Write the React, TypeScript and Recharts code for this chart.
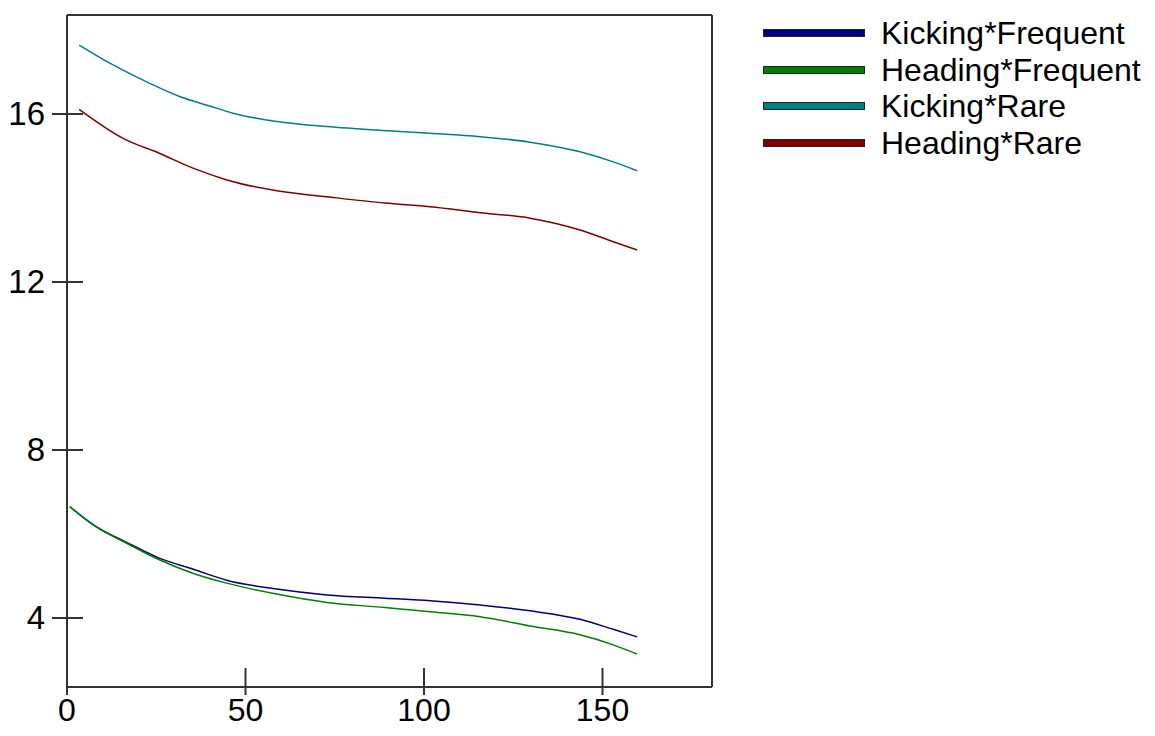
import { LineChart, Line, XAxis, YAxis, ReferenceLine } from 'recharts'

const X_MAX = 180.67
const Y_MIN = 2.357
const Y_MAX = 18.357

const xTicks = [0, 50, 100, 150]
const yTicks = [4, 8, 12, 16]

const kickFreqX = [0.8, 7.4, 16.7, 26, 35.4, 44.7, 58.7, 72.8, 89, 101.7, 115.7, 129.7, 143.7, 153, 159.7]
const kickFreqY = [6.65, 6.22, 5.8, 5.42, 5.16, 4.9, 4.69, 4.55, 4.47, 4.41, 4.31, 4.17, 3.97, 3.73, 3.55]

const headFreqX = [0.8, 7.4, 16.7, 26, 35.4, 44.7, 58.7, 72.8, 89, 101.7, 115.7, 129.7, 143.7, 153, 159.7]
const headFreqY = [6.65, 6.21, 5.78, 5.38, 5.06, 4.83, 4.57, 4.37, 4.25, 4.15, 4.03, 3.81, 3.6, 3.36, 3.14]

const kickRareX = [3.4, 12, 23.2, 31.7, 40, 46.5, 58.8, 72.8, 90, 101.7, 115.7, 129.7, 143.7, 153, 159.7]
const kickRareY = [17.64, 17.21, 16.73, 16.41, 16.19, 16.02, 15.82, 15.7, 15.6, 15.54, 15.46, 15.33, 15.1, 14.86, 14.65]

const headRareX = [3.4, 15.7, 26, 35.3, 44.8, 58.8, 72.8, 89, 101.7, 115.7, 129.7, 143.7, 153, 159.7]
const headRareY = [16.11, 15.42, 15.06, 14.71, 14.43, 14.17, 14.03, 13.88, 13.79, 13.65, 13.52, 13.24, 12.96, 12.76]

const toPoints = (xs: number[], ys: number[]) => xs.map((x, i) => ({ x, y: ys[i] }))

const SERIES = [
  { name: 'Kicking*Frequent', color: '#000080', data: toPoints(kickFreqX, kickFreqY) },
  { name: 'Heading*Frequent', color: '#008000', data: toPoints(headFreqX, headFreqY) },
  { name: 'Kicking*Rare', color: '#008080', data: toPoints(kickRareX, kickRareY) },
  { name: 'Heading*Rare', color: '#800000', data: toPoints(headRareX, headRareY) },
]

const FONT = '"Liberation Sans", Arial, sans-serif'
const AXIS = '#333'

// x ticks cross the axis; outward part kept short so it clears the label
const XTick = ({ x, y, payload }: any) => (
  <g>
    <line x1={x} x2={x} y1={y - 19} y2={y + 8} stroke={AXIS} strokeWidth={2} />
    <text x={x} y={y + 34} textAnchor="middle" fontSize={32} fontFamily={FONT} fill="#000">
      {payload.value}
    </text>
  </g>
)

const YTick = ({ x, y, payload }: any) => (
  <g>
    <line x1={x - 15} x2={x + 16} y1={y} y2={y} stroke={AXIS} strokeWidth={2} />
    <text x={x - 22} y={y + 11} textAnchor="end" fontSize={33} fontFamily={FONT} fill="#000">
      {payload.value}
    </text>
  </g>
)

// legend drawn as plain html next to the plot
const LegendBox = () => (
  <div style={{ position: 'absolute', left: 755, top: 7, fontFamily: FONT, fontSize: 32, color: '#000' }}>
    {SERIES.map(s => (
      <div key={s.name} style={{ display: 'flex', alignItems: 'center', height: 36.5 }}>
        <span
          style={{
            display: 'inline-block',
            width: 100,
            height: 6,
            background: s.color,
            border: '1px solid #222',
          }}
        />
        <span style={{ marginLeft: 16, lineHeight: '36px', whiteSpace: 'nowrap' }}>{s.name}</span>
      </div>
    ))}
  </div>
)

export default function App() {
  return (
    <div style={{ position: 'relative', width: 1139, height: 720 }}>
      <LineChart width={1139} height={720} margin={{ top: 7, right: 435, bottom: 1, left: 0 }}>
        <XAxis
          type="number"
          dataKey="x"
          domain={[0, X_MAX]}
          allowDataOverflow
          ticks={xTicks}
          tickSize={0}
          tickMargin={0}
          tickLine={false}
          tick={<XTick />}
          height={40}
          axisLine={{ stroke: AXIS, strokeWidth: 2 }}
        />
        <YAxis
          type="number"
          dataKey="y"
          domain={[Y_MIN, Y_MAX]}
          allowDataOverflow
          ticks={yTicks}
          tickSize={0}
          tickMargin={0}
          tickLine={false}
          tick={<YTick />}
          width={59}
          axisLine={{ stroke: AXIS, strokeWidth: 2 }}
        />
        <ReferenceLine y={Y_MAX} stroke={AXIS} strokeWidth={2} />
        <ReferenceLine x={X_MAX} stroke={AXIS} strokeWidth={2} />
        {SERIES.map(s => (
          <Line
            key={s.name}
            data={s.data}
            dataKey="y"
            name={s.name}
            type="monotone"
            stroke={s.color}
            strokeWidth={1.5}
            dot={false}
            isAnimationActive={false}
          />
        ))}
      </LineChart>
      <LegendBox />
    </div>
  )
}
